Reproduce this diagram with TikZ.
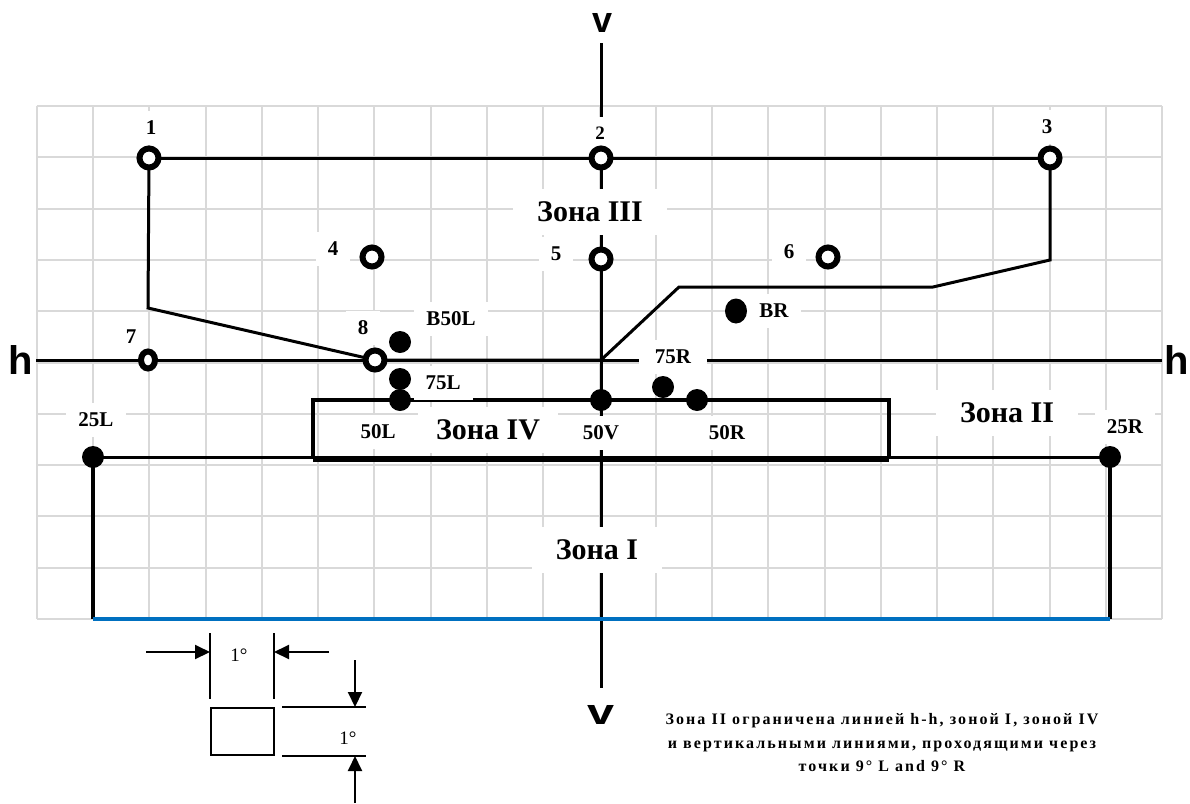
\documentclass[tikz,border=0pt]{standalone}
\usepackage{fontspec}
\setmainfont{Liberation Serif}
\newfontfamily\hfont{Liberation Sans}
\newfontfamily\notefont[LetterSpace=13]{Liberation Serif}
\usetikzlibrary{arrows.meta,shapes.geometric}
\pgfdeclarelayer{gridlayer}
\pgfdeclarelayer{linelayer}
\pgfsetlayers{gridlayer,linelayer,main}
\definecolor{gridgray}{HTML}{D9D9D9}
\definecolor{blueline}{HTML}{0070C0}
\tikzset{
  gridline/.style={draw=gridgray, line width=2pt},
  contour/.style={draw=black, line width=3pt, line join=miter},
  axisline/.style={draw=black, line width=3pt},
  opendot/.style={circle, draw=black, fill=white, line width=6pt, minimum size=19pt, inner sep=0pt},
  filldot/.style={circle, fill=black, minimum size=22pt, inner sep=0pt},
  lbl/.style={fill=white, inner xsep=12pt, inner ysep=10pt, font=\bfseries\fontsize{21}{21}\selectfont},
  lblsmall/.style={fill=white, inner xsep=12pt, inner ysep=10pt, font=\bfseries\fontsize{19}{19}\selectfont},
  zone/.style={fill=white, inner xsep=24pt, inner ysep=13pt, font=\bfseries\fontsize{30}{30}\selectfont},
  axlbl/.style={font=\hfont\bfseries\fontsize{40}{40}\selectfont, inner sep=3pt},
  dimline/.style={draw=black, line width=2pt},
  dimarrow/.style={draw=black, line width=2pt, -{Triangle[length=15pt,width=14pt]}},
}
\begin{document}
\begin{tikzpicture}[x=1pt,y=-1pt]
\useasboundingbox (0,0) rectangle (1190,803);

% grid
\begin{pgfonlayer}{gridlayer}
\foreach \i in {0,...,20} \draw[gridline] ({36.7+\i*56.28},106) -- ({36.7+\i*56.28},619);
\foreach \j in {0,...,10} \draw[gridline] (36.7,{106+\j*51.3}) -- (1162,{106+\j*51.3});
\end{pgfonlayer}

% labels with white background
\node[lbl] (l1) at (151,128) {1};
\node[lblsmall] (l2) at (600,133) {2};
\node[lbl] (l3) at (1047,127) {3};
\node[lbl] (l4) at (333,249) {4};
\node[lbl] (l5) at (556,254) {5};
\node[lbl] (l6) at (789,252) {6};
\node[lbl] (l7) at (131,337) {7};
\node[lbl] (l8) at (363,328) {8};
\node[lbl] (lb50l) at (451,319) {B50L};
\node[lbl] (l75l) at (443,383) {75L};
\node[lbl] (l50l) at (378,432) {50L};
\node[lbl] (l50v) at (601,433) {50V};
\node[lbl, inner xsep=16pt] (l75r) at (673,357) {75R};
\node[lbl] (l50r) at (727,433) {50R};
\node[lbl] (lbr) at (774,311) {BR};
\node[lbl] (l25l) at (96,420) {25L};
\node[lbl] (l25r) at (1125,427) {25R};

\node[zone] (z3) at (590,212) {Зона III};
\node[zone, inner xsep=18pt] (z4) at (488,430) {Зона IV};
\node[zone] (z2) at (1007,413) {Зона II};
\node[zone] (z1) at (597,550) {Зона I};

\node[axlbl, fill=white] (hl) at (21,360) {h};
\node[axlbl] (hr) at (1177,360) {h};
\node[font=\hfont\bfseries\fontsize{36}{36}\selectfont, inner sep=2pt] (vt) at (603,23) {v};
\node[font=\hfont\bfseries\fontsize{36}{36}\selectfont, inner sep=2pt] (vb) at (601,715) {\scalebox{1.35}[1]{v}};

% photometric points
\node[opendot] (p1) at (149,158) {};
\node[opendot] (p2) at (601,158) {};
\node[opendot] (p3) at (1050,158) {};
\node[opendot] (p4) at (372,257) {};
\node[opendot] (p5) at (601,259) {};
\node[opendot] (p6) at (828,257) {};
\node[ellipse, draw=black, fill=white, line width=6pt, minimum width=14pt, minimum height=17pt, inner sep=0pt] (p7) at (148,360) {};
\node[opendot] (p8) at (375,360) {};

\node[filldot] (db50l) at (400,342) {};
\node[filldot] (d75l) at (400,379) {};
\node[filldot] (d50l) at (400,400) {};
\node[filldot] (d50v) at (601,400) {};
\node[filldot] (d75r) at (663,387) {};
\node[filldot] (d50r) at (697,400) {};
\node[ellipse, fill=black, minimum width=22pt, minimum height=25pt, inner sep=0pt] (dbr) at (736,311) {};
\node[filldot] (d25l) at (93,457) {};
\node[filldot] (d25r) at (1110,457) {};

% coordinates
\coordinate (c1) at (148,308);
\coordinate (c3a) at (1050,260);
\coordinate (c3b) at (933,287);
\coordinate (c3c) at (679,287);
\coordinate (vh) at (601,360);
\coordinate (vT) at (601,43);
\coordinate (vB) at (601,688);
\coordinate (hL) at (36,360);
\coordinate (hR) at (1162,360);
\coordinate (z4a) at (313,400);
\coordinate (z4b) at (889,400);
\coordinate (z4c) at (889,459);
\coordinate (z4d) at (313,459);
\coordinate (z1a) at (93,619);
\coordinate (z1b) at (1110,619);

\begin{pgfonlayer}{linelayer}
\draw[axisline] (vT) -- (vB);
\draw[axisline] (hL) -- (hR);
\draw[contour] (p1.center) -- (p2.center) -- (p3.center);
\draw[contour] (p1.center) -- (c1) -- (p8.center);
\draw[contour] (p3.center) -- (c3a) -- (c3b) -- (c3c) -- (vh) -- (p8.center);
\draw[line width=3.5pt, line join=miter] (z4d) -- (z4a) -- (z4b) -- (z4c);
\draw[line width=3pt] (d25l.center) -- (d25r.center);
\draw[line width=5pt] (z4d) -- (z4c);
\draw[line width=3.5pt] (d25l.center) -- (z1a);
\draw[line width=3.5pt] (d25r.center) -- (z1b);
\draw[draw=blueline, line width=4.5pt] (z1a) -- (z1b);
\end{pgfonlayer}

% scale legend
\coordinate (a1s) at (146,652);
\coordinate (t1) at (210,652);
\coordinate (a2s) at (329,652);
\coordinate (t2) at (274,652);
\coordinate (k1a) at (210,633);
\coordinate (k1b) at (210,699);
\coordinate (k2a) at (274,633);
\coordinate (k2b) at (274,699);
\coordinate (m1a) at (282,707);
\coordinate (m1b) at (366,707);
\coordinate (m2a) at (282,756);
\coordinate (m2b) at (366,756);
\coordinate (va1) at (355,660);
\coordinate (vt1) at (355,707);
\coordinate (va2) at (355,803);
\coordinate (vt2) at (355,756);
\draw[dimarrow] (a1s) -- (t1);
\draw[dimarrow] (a2s) -- (t2);
\draw[dimline] (k1a) -- (k1b);
\draw[dimline] (k2a) -- (k2b);
\node[draw=black, line width=2pt, minimum width=63pt, minimum height=47pt, inner sep=0pt] (sq) at (242.5,731.5) {};
\draw[dimline] (m1a) -- (m1b);
\draw[dimline] (m2a) -- (m2b);
\draw[dimarrow] (va1) -- (vt1);
\draw[dimarrow] (va2) -- (vt2);
\node[font=\fontsize{19}{19}\selectfont] (deg1) at (239,655) {1°};
\node[font=\fontsize{19}{19}\selectfont] (deg2) at (348,738) {1°};

% note
\node[font=\notefont\bfseries\fontsize{16}{23.5}\selectfont, align=center] (note) at (882,743)
  {Зона II ограничена линией h-h, зоной I, зоной IV\\и вертикальными линиями, проходящими через\\точки 9° L and 9° R};
\end{tikzpicture}
\end{document}
